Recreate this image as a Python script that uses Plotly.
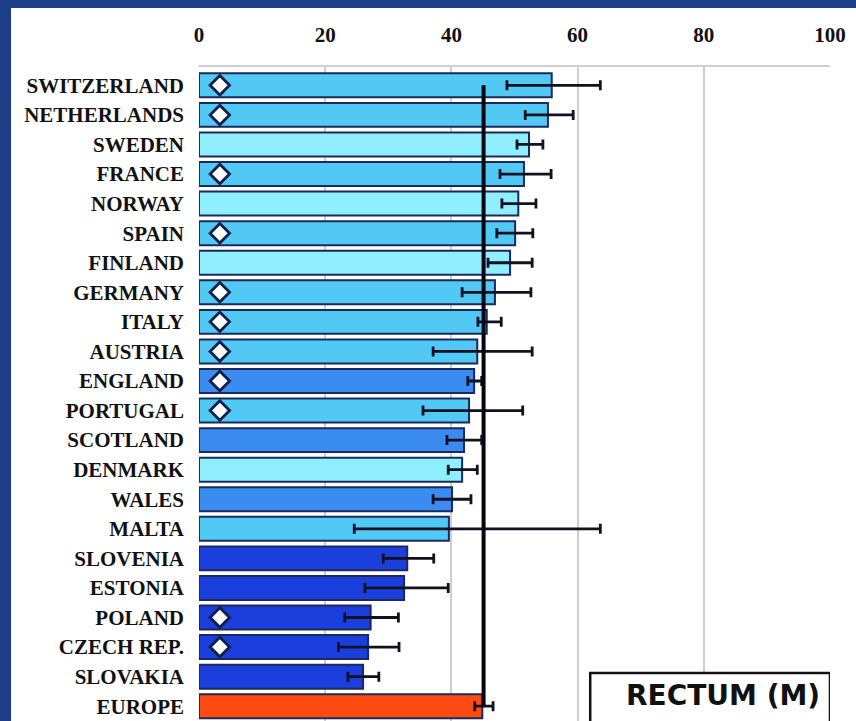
import plotly.graph_objects as go

# ---------------- data ----------------
countries = ["SWITZERLAND", "NETHERLANDS", "SWEDEN", "FRANCE", "NORWAY", "SPAIN",
             "FINLAND", "GERMANY", "ITALY", "AUSTRIA", "ENGLAND", "PORTUGAL",
             "SCOTLAND", "DENMARK", "WALES", "MALTA", "SLOVENIA", "ESTONIA",
             "POLAND", "CZECH REP.", "SLOVAKIA", "EUROPE"]
survival = [55.9, 55.3, 52.3, 51.5, 50.6, 50.1, 49.3, 46.9, 45.6, 44.1, 43.6,
            42.8, 42.0, 41.7, 40.1, 39.6, 33.0, 32.5, 27.2, 26.8, 26.0, 44.9]
ci_low = [48.8, 51.7, 50.4, 47.7, 48.0, 47.2, 45.8, 41.7, 44.2, 37.1, 42.6,
          35.5, 39.3, 39.5, 37.1, 24.6, 29.2, 26.3, 23.1, 22.1, 23.6, 43.7]
ci_high = [63.6, 59.3, 54.5, 55.8, 53.4, 52.9, 52.8, 52.6, 47.9, 52.8, 44.8,
           51.3, 44.8, 44.1, 43.1, 63.6, 37.2, 39.5, 31.6, 31.7, 28.5, 46.6]
region = ["Central-South", "Central-South", "North", "Central-South", "North",
          "Central-South", "North", "Central-South", "Central-South",
          "Central-South", "UK", "Central-South", "UK", "North", "UK",
          "Central-South", "East", "East", "East", "East", "East", "Europe"]
flagged = [1, 1, 0, 1, 0, 1, 0, 1, 1, 1, 1, 1, 0, 0, 0, 0, 0, 0, 1, 1, 0, 0]
europe_mean = 45.1
x_ticks = [0, 20, 40, 60, 80, 100]
flag_x = 3.3
panel_label = "RECTUM (M)"

# ---------------- styles ----------------
region_colors = {"North": "#90EFFF", "Central-South": "#52C8F5",
                 "UK": "#3A8CF0", "East": "#1A3FDC", "Europe": "#FF4A12"}
bar_colors = [region_colors[r] for r in region]
err_plus = [h - v for h, v in zip(ci_high, survival)]
err_minus = [v - l for l, v in zip(ci_low, survival)]

label_font = dict(family="Liberation Serif", size=21, color="#111111", weight="bold")

fig = go.Figure()

fig.add_trace(go.Bar(
    x=survival, y=countries, orientation="h",
    marker=dict(color=bar_colors, line=dict(color="#1B2A5E", width=2)),
    width=0.81,
    error_x=dict(type="data", symmetric=False, array=err_plus,
                 arrayminus=err_minus, color="#111122", thickness=2.8, width=5),
    hoverinfo="skip", showlegend=False,
))

flag_countries = [c for c, f in zip(countries, flagged) if f]
fig.add_trace(go.Scatter(
    x=[flag_x] * len(flag_countries), y=flag_countries, mode="markers",
    marker=dict(symbol="diamond", size=15, color="white",
                line=dict(color="#0F1E4A", width=2.8)),
    hoverinfo="skip", showlegend=False,
))

fig.add_trace(go.Scatter(
    x=[europe_mean, europe_mean], y=[countries[0], countries[-1]], mode="lines",
    line=dict(color="#050510", width=4),
    hoverinfo="skip", showlegend=False,
))

# background: navy frame + white panel
fig.add_shape(type="rect", xref="paper", yref="paper",
              x0=-(199 - 11) / 631, x1=1 + 26 / 631,
              y0=-0.1, y1=1 + (67 - 8) / 654,
              fillcolor="white", line=dict(width=0), layer="below")

# label box
fig.add_shape(type="rect", xref="x", yref="paper",
              x0=62.0, x1=100, y0=-0.05, y1=(721 - 673) / 654,
              fillcolor="white", line=dict(color="#111111", width=2.5),
              layer="above")
fig.add_annotation(x=(62.0 + 100) / 2 + 2, xref="x", xanchor="center",
                   y=(721 - 695) / 654, yref="paper", yanchor="middle",
                   text=panel_label, showarrow=False,
                   font=dict(family="DejaVu Sans", size=28, color="#111111",
                             weight="bold"))

fig.update_layout(
    width=856, height=721,
    margin=dict(l=199, r=26, t=67, b=0),
    paper_bgcolor="#1C3E88",
    plot_bgcolor="white",
    bargap=0.19,
    xaxis=dict(side="top", range=[0, 100], tickvals=x_ticks,
               ticks="", ticklabelstandoff=15,
               tickfont=dict(family="Liberation Serif", size=21,
                             color="#111111", weight="bold"),
               showgrid=True, gridcolor="#CFCFCF", gridwidth=1.5,
               zeroline=False, showline=True, linecolor="#D0D0D0",
               linewidth=1.5, mirror=False),
    yaxis=dict(type="category", range=[21.5, -0.62],
               categoryorder="array", categoryarray=countries,
               ticks="", ticklabelstandoff=14, tickfont=label_font,
               showgrid=False, zeroline=False, showline=False),
)

fig.write_html("out.html",
               config={"displayModeBar": False},
               post_script="document.body.style.margin='0';"
                           "document.body.style.overflow='hidden';")
